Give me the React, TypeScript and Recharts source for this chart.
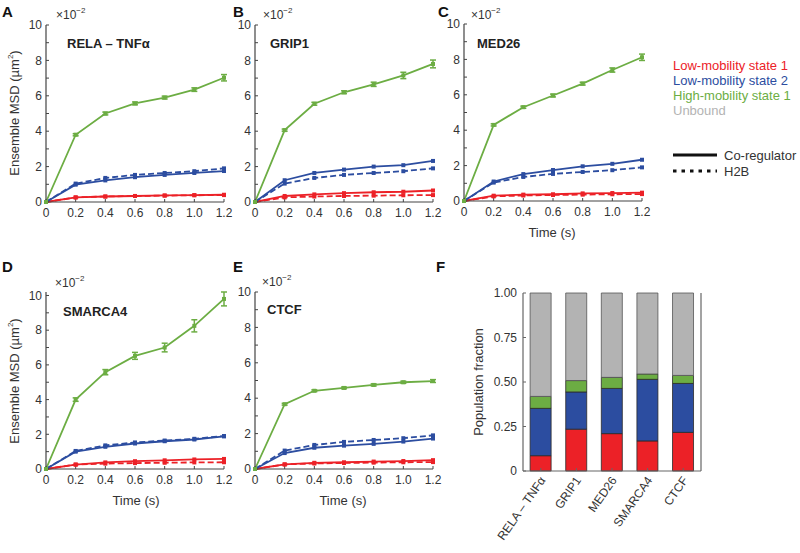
import React from 'react';
import { LineChart, Line, XAxis, YAxis, ErrorBar, BarChart, Bar } from 'recharts';

const FONT = 'Arial, "Liberation Sans", sans-serif';
const RED = '#ec2127';
const BLUE = '#2c4da0';
const GREEN = '#6cad43';
const GREY = '#b3b3b3';
const AXIS = '#444';
const TEXT = '#333';

// MSD curves, values in units of 1e-2 um^2
const times = [0, 0.2, 0.4, 0.6, 0.8, 1.0, 1.2];
const timeTicks = [0, 0.2, 0.4, 0.6, 0.8, 1.0, 1.2];
const msdTicks = [0, 1, 2, 3, 4, 5, 6, 7, 8, 9, 10];

// H2B reference (dashed), same in every panel
const h2bLow1 = [0, 0.26, 0.31, 0.34, 0.36, 0.38, 0.39];
const h2bLow2 = [0, 1.04, 1.36, 1.53, 1.64, 1.74, 1.9];

const relaLow1 = [0, 0.26, 0.31, 0.34, 0.37, 0.39, 0.41];
const relaLow2 = [0, 0.98, 1.22, 1.4, 1.53, 1.64, 1.75];
const relaHigh1 = [0, 3.8, 5.0, 5.57, 5.9, 6.35, 7.02];
const relaHigh1Err = [0, 0.06, 0.08, 0.08, 0.08, 0.1, 0.18];

const grip1Low1 = [0, 0.34, 0.43, 0.5, 0.55, 0.58, 0.65];
const grip1Low2 = [0, 1.23, 1.64, 1.83, 2.0, 2.08, 2.32];
const grip1High1 = [0, 4.06, 5.55, 6.2, 6.65, 7.15, 7.8];
const grip1High1Err = [0, 0.06, 0.08, 0.08, 0.12, 0.18, 0.22];

const med26Low1 = [0, 0.3, 0.36, 0.38, 0.43, 0.45, 0.47];
const med26Low2 = [0, 1.1, 1.52, 1.75, 1.96, 2.1, 2.33];
const med26High1 = [0, 4.3, 5.3, 5.96, 6.63, 7.4, 8.12];
const med26High1Err = [0, 0.06, 0.06, 0.08, 0.08, 0.12, 0.18];

const smarca4Low1 = [0, 0.25, 0.38, 0.45, 0.5, 0.55, 0.58];
const smarca4Low2 = [0, 1.0, 1.28, 1.47, 1.6, 1.7, 1.88];
const smarca4High1 = [0, 4.0, 5.58, 6.52, 7.0, 8.25, 9.8];
const smarca4High1Err = [0, 0.1, 0.15, 0.2, 0.25, 0.35, 0.4];

const ctcfLow1 = [0, 0.26, 0.35, 0.38, 0.42, 0.45, 0.5];
const ctcfLow2 = [0, 0.9, 1.2, 1.32, 1.42, 1.55, 1.72];
const ctcfHigh1 = [0, 3.66, 4.42, 4.58, 4.75, 4.9, 4.97];
const ctcfHigh1Err = [0, 0.05, 0.05, 0.05, 0.06, 0.06, 0.08];

// population fractions (panel F)
const factors = ['RELA \u2013 TNF\u03b1', 'GRIP1', 'MED26', 'SMARCA4', 'CTCF'];
const fracLow1 = [0.086, 0.235, 0.21, 0.169, 0.217];
const fracLow2 = [0.266, 0.209, 0.254, 0.346, 0.275];
const fracHigh1 = [0.067, 0.064, 0.062, 0.03, 0.045];
const fracUnbound = [0.581, 0.492, 0.474, 0.455, 0.463];
const fracTicks = [0, 0.25, 0.5, 0.75, 1];

const PLOT_W = 178;
const PLOT_H = 177;

const squareDot = (color: string) => (props: any) => {
  const { cx, cy, index } = props;
  if (cx == null || cy == null) return <g key={index} />;
  return <rect key={index} x={cx - 2} y={cy - 2} width={4} height={4} fill={color} />;
};

const tickStyle = { fontSize: 12, fill: TEXT, fontFamily: FONT };

interface MsdPanelProps {
  left: number;
  top: number;
  low1: number[];
  low2: number[];
  high1: number[];
  high1Err: number[];
}

function MsdPanel({ left, top, low1, low2, high1, high1Err }: MsdPanelProps) {
  const data = times.map((t, i) => ({
    t,
    low1: low1[i],
    low2: low2[i],
    high1: high1[i],
    high1Err: high1Err[i],
    h2bLow1: h2bLow1[i],
    h2bLow2: h2bLow2[i],
  }));

  return (
    <div style={{ position: 'absolute', left: left - 40, top: top - 10 }}>
      <LineChart
        width={PLOT_W + 50}
        height={PLOT_H + 40}
        data={data}
        margin={{ top: 10, right: 10, bottom: 0, left: 0 }}
      >
        <XAxis
          dataKey="t"
          type="number"
          domain={[0, 1.2]}
          ticks={timeTicks}
          interval={0}
          tickFormatter={(v: number) => (v === 0 ? '0' : v.toFixed(1))}
          height={30}
          tickSize={-3}
          tickMargin={9}
          axisLine={{ stroke: AXIS, strokeWidth: 1.2 }}
          tickLine={{ stroke: AXIS }}
          tick={tickStyle}
        />
        <YAxis
          type="number"
          domain={[0, 10]}
          ticks={msdTicks}
          interval={0}
          tickFormatter={(v: number) => (v % 2 === 0 ? String(v) : '')}
          width={40}
          tickSize={-3}
          tickMargin={7}
          axisLine={{ stroke: AXIS, strokeWidth: 1.2 }}
          tickLine={{ stroke: AXIS }}
          tick={tickStyle}
        />
        <Line
          dataKey="h2bLow1"
          stroke={RED}
          strokeWidth={1.8}
          strokeDasharray="6 3"
          dot={squareDot(RED)}
          isAnimationActive={false}
        />
        <Line
          dataKey="h2bLow2"
          stroke={BLUE}
          strokeWidth={1.8}
          strokeDasharray="6 3"
          dot={squareDot(BLUE)}
          isAnimationActive={false}
        />
        <Line dataKey="low1" stroke={RED} strokeWidth={1.8} dot={squareDot(RED)} isAnimationActive={false} />
        <Line dataKey="low2" stroke={BLUE} strokeWidth={1.8} dot={squareDot(BLUE)} isAnimationActive={false} />
        <Line dataKey="high1" stroke={GREEN} strokeWidth={1.8} dot={squareDot(GREEN)} isAnimationActive={false}>
          <ErrorBar dataKey="high1Err" direction="y" width={3} stroke={GREEN} strokeWidth={1.5} />
        </Line>
      </LineChart>
    </div>
  );
}

function RotatedTick(props: any) {
  const { x, y, payload } = props;
  return (
    <text
      x={x + 2}
      y={y}
      dy={4}
      transform={`rotate(-55, ${x + 2}, ${y})`}
      textAnchor="end"
      fontSize={12}
      fill={TEXT}
      fontFamily={FONT}
    >
      {payload.value}
    </text>
  );
}

function FractionPanel() {
  const data = factors.map((name, i) => ({
    name,
    low1: fracLow1[i],
    low2: fracLow2[i],
    high1: fracHigh1[i],
    unbound: fracUnbound[i],
  }));
  const box = { stroke: '#666', strokeWidth: 1.2 };
  return (
    <div style={{ position: 'absolute', left: 463, top: 283 }}>
      <BarChart
        width={60 + PLOT_W + 10}
        height={10 + 178 + 80}
        data={data}
        margin={{ top: 10, right: 0, bottom: 0, left: 0 }}
        barCategoryGap="20%"
      >
        <XAxis
          xAxisId="bottom"
          dataKey="name"
          height={80}
          interval={0}
          tickSize={-3}
          tickMargin={10}
          axisLine={box}
          tickLine={{ stroke: '#666' }}
          tick={<RotatedTick />}
        />
        <XAxis
          xAxisId="top"
          orientation="top"
          dataKey="name"
          height={0}
          interval={0}
          tickSize={-3}
          tickFormatter={() => ''}
          axisLine={box}
          tickLine={{ stroke: '#666' }}
        />
        <YAxis
          yAxisId="left"
          type="number"
          domain={[0, 1]}
          ticks={fracTicks}
          interval={0}
          tickFormatter={(v: number) => (v === 0 ? '0' : v.toFixed(2))}
          width={60}
          tickSize={-3}
          tickMargin={9}
          axisLine={box}
          tickLine={{ stroke: '#666' }}
          tick={tickStyle}
        />
        <YAxis
          yAxisId="right"
          orientation="right"
          type="number"
          domain={[0, 1]}
          ticks={fracTicks}
          interval={0}
          tickFormatter={() => ''}
          width={10}
          tickSize={-3}
          axisLine={box}
          tickLine={{ stroke: '#666' }}
        />
        <Bar xAxisId="bottom" yAxisId="left" dataKey="low1" stackId="f" fill={RED} stroke="#2a2a2a" strokeWidth={0.8} isAnimationActive={false} />
        <Bar xAxisId="bottom" yAxisId="left" dataKey="low2" stackId="f" fill={BLUE} stroke="#2a2a2a" strokeWidth={0.8} isAnimationActive={false} />
        <Bar xAxisId="bottom" yAxisId="left" dataKey="high1" stackId="f" fill={GREEN} stroke="#2a2a2a" strokeWidth={0.8} isAnimationActive={false} />
        <Bar xAxisId="bottom" yAxisId="left" dataKey="unbound" stackId="f" fill={GREY} stroke="#555" strokeWidth={0.8} isAnimationActive={false} />
      </BarChart>
    </div>
  );
}

function Scale({ x, y }: { x: number; y: number }) {
  return (
    <text x={x} y={y} fontSize={12} fill={TEXT} fontFamily={FONT}>
      {'\u00d710'}
      <tspan fontSize={8} dy={-6}>{'\u22122'}</tspan>
    </text>
  );
}

function YLabel({ x, y, text, sup }: { x: number; y: number; text: string; sup?: boolean }) {
  return (
    <text
      transform={`translate(${x}, ${y}) rotate(-90)`}
      textAnchor="middle"
      fontSize={13}
      fill={TEXT}
      fontFamily={FONT}
    >
      {text}
      {sup ? (
        <>
          <tspan fontSize={8} dy={-6}>2</tspan>
          <tspan dy={6}>)</tspan>
        </>
      ) : null}
    </text>
  );
}

export default function App() {
  const letter = { fontSize: 15, fontWeight: 700, fill: '#111', fontFamily: FONT };
  const title = { fontSize: 13, fontWeight: 700, fill: '#222', fontFamily: FONT };
  const label = { fontSize: 13, fill: TEXT, fontFamily: FONT };

  return (
    <div
      style={{
        position: 'absolute',
        left: 0,
        top: 0,
        width: 800,
        height: 553,
        background: '#fff',
        fontFamily: FONT,
        overflow: 'hidden',
      }}
    >
      <MsdPanel left={46} top={24.5} low1={relaLow1} low2={relaLow2} high1={relaHigh1} high1Err={relaHigh1Err} />
      <MsdPanel left={255} top={24.5} low1={grip1Low1} low2={grip1Low2} high1={grip1High1} high1Err={grip1High1Err} />
      <MsdPanel left={463.5} top={24} low1={med26Low1} low2={med26Low2} high1={med26High1} high1Err={med26High1Err} />
      <MsdPanel left={46} top={292} low1={smarca4Low1} low2={smarca4Low2} high1={smarca4High1} high1Err={smarca4High1Err} />
      <MsdPanel left={254.5} top={291.5} low1={ctcfLow1} low2={ctcfLow2} high1={ctcfHigh1} high1Err={ctcfHigh1Err} />
      <FractionPanel />

      <svg
        width={800}
        height={553}
        style={{ position: 'absolute', left: 0, top: 0, pointerEvents: 'none' }}
      >
        <text x={2} y={17} {...letter}>A</text>
        <text x={233} y={17} {...letter}>B</text>
        <text x={438} y={17} {...letter}>C</text>
        <text x={2} y={272} {...letter}>D</text>
        <text x={233} y={272} {...letter}>E</text>
        <text x={436} y={272} {...letter}>F</text>

        <Scale x={56} y={19} />
        <Scale x={263} y={19} />
        <Scale x={471} y={19} />
        <Scale x={55} y={287} />
        <Scale x={262} y={286} />

        <text x={67} y={48} {...title}>{'RELA \u2013 TNF\u03b1'}</text>
        <text x={270} y={48} {...title}>GRIP1</text>
        <text x={477} y={48} {...title}>MED26</text>
        <text x={63} y={316} {...title}>SMARCA4</text>
        <text x={267} y={314} {...title}>CTCF</text>

        <YLabel x={19} y={113} text={'Ensemble MSD (\u00b5m'} sup />
        <YLabel x={19} y={381} text={'Ensemble MSD (\u00b5m'} sup />
        <YLabel x={483} y={382} text="Population fraction" />

        <text x={552} y={237} textAnchor="middle" {...label}>Time (s)</text>
        <text x={136} y={505} textAnchor="middle" {...label}>Time (s)</text>
        <text x={343} y={505} textAnchor="middle" {...label}>Time (s)</text>

        <text x={673} y={69.5} fontSize={13} fill={RED} fontFamily={FONT}>Low-mobility state 1</text>
        <text x={673} y={84.5} fontSize={13} fill={BLUE} fontFamily={FONT}>Low-mobility state 2</text>
        <text x={673} y={99.5} fontSize={13} fill={GREEN} fontFamily={FONT}>High-mobility state 1</text>
        <text x={673} y={114.5} fontSize={13} fill={GREY} fontFamily={FONT}>Unbound</text>

        <line x1={673} x2={717} y1={155} y2={155} stroke="#111" strokeWidth={3} />
        <text x={724} y={159.5} {...label}>Co-regulator</text>
        <line x1={673} x2={717} y1={171} y2={171} stroke="#111" strokeWidth={3} strokeDasharray="3.5 5" />
        <text x={724} y={175.5} {...label}>H2B</text>
      </svg>
    </div>
  );
}
